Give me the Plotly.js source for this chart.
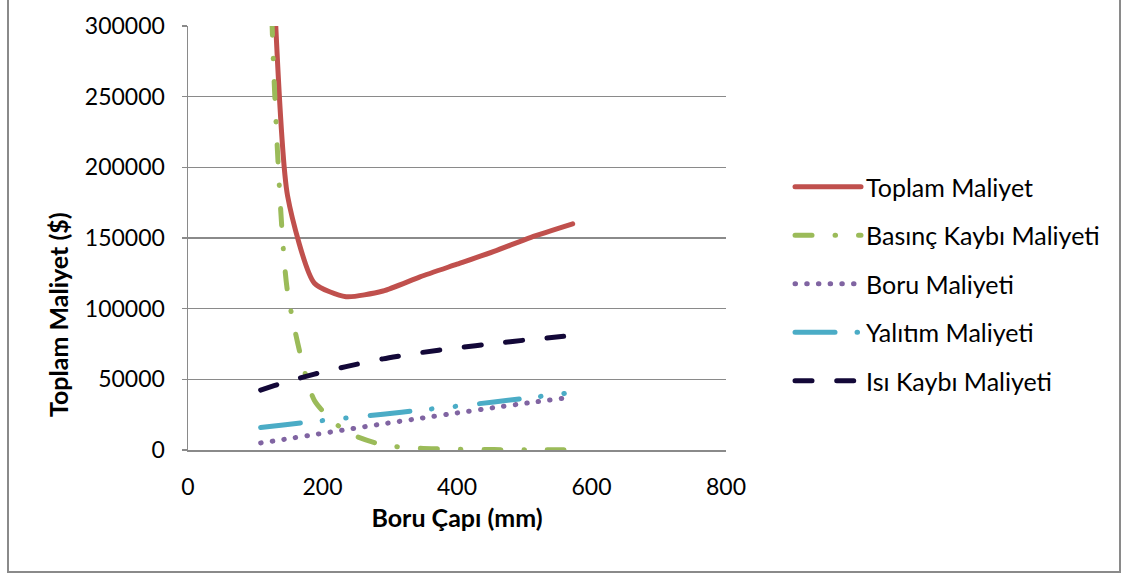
<!DOCTYPE html>
<html><head><meta charset="utf-8">
<script src="https://cdn.plot.ly/plotly-3.0.1.min.js"></script>
<style>
html,body{margin:0;padding:0;background:#fff;}
#wrap{position:relative;width:1127px;height:575px;overflow:hidden;}
#chart{width:1127px;height:575px;}
#frame{position:absolute;left:7px;top:-3px;width:1114px;height:576px;border:2px solid #8a8a8a;box-sizing:border-box;pointer-events:none;}
.js-line{stroke-linecap:round;}
</style></head>
<body><div id="wrap"><div id="chart"></div><div id="frame"></div></div>
<script>
// Boru çapı (mm) ve maliyet bileşenleri ($)
const boruCapi = [108, 128, 148, 188, 235, 290, 345, 400, 455, 510, 572];
const toplamMaliyet = [680000, 326000, 180000, 118000, 108500, 112500, 122500, 131500, 140500, 150500, 160000];
const basincKaybiMaliyeti = [620000, 262000, 112000, 35000, 13000, 3500, 1300, 600, 300, 150, 80];
const boruMaliyeti = [5000, 6400, 7900, 10900, 14400, 18500, 22400, 26200, 30000, 33600, 37500];
const yalitimMaliyeti = [16000, 17000, 18100, 20200, 22600, 25300, 28200, 31000, 34000, 37100, 40700];
const isiKaybiMaliyeti = [42400, 45500, 48500, 53700, 59000, 64500, 68800, 72300, 75300, 78200, 81000];

const seriAdlari = ['Toplam Maliyet', 'Basınç Kaybı Maliyeti', 'Boru Maliyeti', 'Yalıtım Maliyeti', 'Isı Kaybı Maliyeti'];
const xTicks = [0, 200, 400, 600, 800];
const yTicks = [0, 50000, 100000, 150000, 200000, 250000, 300000];

const FONT = 'Lato, "Open Sans", sans-serif';

function seri(ad, y, renk, genislik, kesik, grup) {
  return {
    x: boruCapi, y: y, name: ad, type: 'scatter', mode: 'lines',
    legendgroup: grup,
    line: {color: renk, width: genislik, dash: kesik, shape: 'spline', smoothing: 0.6}
  };
}

const data = [
  seri(seriAdlari[0], toplamMaliyet, '#C0504D', 5, 'solid', 'a'),
  seri(seriAdlari[1], basincKaybiMaliyeti, '#9BBB59', 5, '17px,23px,0.5px,23px', 'b'),
  seri(seriAdlari[2], boruMaliyeti, '#8064A2', 5, '0.5px,11.2px', 'c'),
  seri(seriAdlari[3], yalitimMaliyeti, '#4BACC6', 5, '40px,22px,0.5px,23px,0.5px,24px', 'd'),
  seri(seriAdlari[4], isiKaybiMaliyeti, '#130838', 5, '17px,24.7px', 'e')
];

const layout = {
  width: 1127, height: 575,
  margin: {l: 188, r: 401, t: 26, b: 125, pad: 0},
  paper_bgcolor: '#ffffff', plot_bgcolor: '#ffffff',
  font: {family: FONT, size: 23, color: '#000000'},
  showlegend: true,
  legend: {
    x: 1.119, xanchor: 'left', y: 0.6745, yanchor: 'top',
    traceorder: 'grouped', tracegroupgap: 13,
    itemwidth: 66,
    font: {family: FONT, size: 25, color: '#000000'},
    bgcolor: 'rgba(0,0,0,0)'
  },
  xaxis: {
    range: [0, 800], tickvals: xTicks, ticktext: xTicks.map(String),
    showgrid: false, zeroline: false,
    showline: true, linecolor: '#8a8a8a', linewidth: 1.5,
    ticks: '', ticklabelstandoff: 16,
    tickfont: {family: FONT, size: 23},
    title: {text: '<b>Boru Çapı (mm)</b>', font: {family: FONT, size: 25}, standoff: 10}
  },
  yaxis: {
    range: [0, 300000], tickvals: yTicks, ticktext: yTicks.map(String),
    showgrid: true, gridcolor: '#8a8a8a', gridwidth: 1.5,
    zeroline: false,
    showline: true, linecolor: '#8a8a8a', linewidth: 1.5,
    ticks: 'outside', ticklen: 5, tickcolor: '#8a8a8a', tickwidth: 1.5,
    ticklabelstandoff: 12,
    tickfont: {family: FONT, size: 23}
  },
  annotations: [{
    text: '<b>Toplam Maliyet ($)</b>', textangle: -90, showarrow: false,
    xref: 'paper', yref: 'paper', x: (58 - 188) / 538, y: (450 - 315) / 424,
    xanchor: 'center', yanchor: 'middle',
    font: {family: FONT, size: 25, color: '#000000'}
  }]
};

Plotly.newPlot('chart', data, layout, {staticPlot: true, displayModeBar: false});
</script>
</body></html>
